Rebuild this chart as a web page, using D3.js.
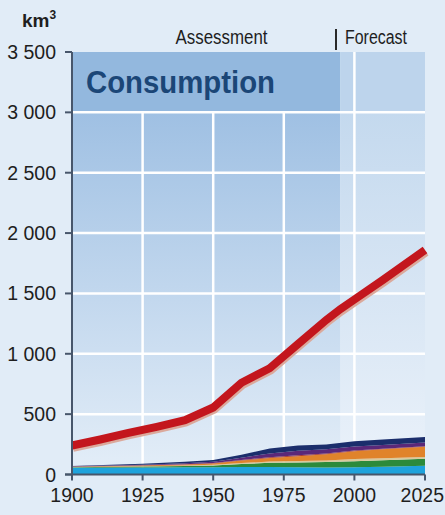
<!DOCTYPE html>
<html>
<head>
<meta charset="utf-8">
<script src="https://cdn.jsdelivr.net/npm/d3@7"></script>
<style>
  html, body { margin: 0; padding: 0; background: #e1ecf7; }
  svg { display: block; }
  text { font-family: "Liberation Sans", Arial, sans-serif; fill: #1e1e1e; }
</style>
</head>
<body>
<div id="chart"></div>
<script>
// Total consumption (red line)
const lineYears = [1900, 1910, 1920, 1930, 1940, 1950, 1960, 1970, 1980, 1990, 1995, 2000, 2010, 2025];
const lineVals  = [240, 290, 345, 395, 450, 555, 760, 880, 1080, 1280, 1370, 1450, 1610, 1860];

// Stacked layers, bottom to top
const stackYears = [1900, 1925, 1940, 1950, 1960, 1970, 1980, 1990, 2000, 2010, 2025];
const cyanVals   = [55, 58, 60, 60, 62, 62, 60, 58, 60, 64, 72];
const greenVals  = [5, 8, 10, 15, 25, 35, 40, 45, 50, 54, 58];
const tanVals    = [2, 3, 4, 5, 8, 10, 12, 14, 18, 16, 15];
const orangeVals = [3, 5, 8, 12, 20, 30, 40, 50, 65, 75, 85];
const brownVals  = [1, 2, 3, 3, 5, 6, 7, 7, 6, 5, 5];
const purpleVals = [2, 5, 8, 10, 18, 32, 37, 35, 33, 31, 30];
const navyVals   = [3, 8, 12, 15, 25, 40, 44, 40, 43, 44, 45];

const layerKeys   = ["cyan", "green", "tan", "orange", "brown", "purple", "navy"];
const layerColors = ["#1ea3dc", "#2c8a3b", "#d8c99c", "#e0832b", "#a8392c", "#5a2879", "#1b2e6c"];

const yTicks = [0, 500, 1000, 1500, 2000, 2500, 3000, 3500];
const xTicks = [1900, 1925, 1950, 1975, 2000, 2025];
const forecastStart = 1995;

const width = 445, height = 515;

const svg = d3.select("#chart").append("svg")
    .attr("width", width)
    .attr("height", height);

const x = d3.scaleLinear().domain([1900, 2025]).range([72, 425]);
const y = d3.scaleLinear().domain([0, 3500]).range([474.5, 52]);

// Backgrounds
const defs = svg.append("defs");
const g1 = defs.append("linearGradient").attr("id", "assess").attr("x1", 0).attr("y1", 0).attr("x2", 0).attr("y2", 1);
g1.append("stop").attr("offset", "0%").attr("stop-color", "#9fc0e3");
g1.append("stop").attr("offset", "100%").attr("stop-color", "#e4eef8");
const g2 = defs.append("linearGradient").attr("id", "fore").attr("x1", 0).attr("y1", 0).attr("x2", 0).attr("y2", 1);
g2.append("stop").attr("offset", "0%").attr("stop-color", "#c4d9ee");
g2.append("stop").attr("offset", "100%").attr("stop-color", "#ebf2fa");

// main plot area
svg.append("rect")
    .attr("x", x(1900)).attr("y", y(3000))
    .attr("width", x(forecastStart) - x(1900)).attr("height", y(0) - y(3000))
    .attr("fill", "url(#assess)");
svg.append("rect")
    .attr("x", x(forecastStart)).attr("y", y(3000))
    .attr("width", x(2025) - x(forecastStart)).attr("height", y(0) - y(3000))
    .attr("fill", "url(#fore)");

// header band
svg.append("rect")
    .attr("x", x(1900)).attr("y", y(3500))
    .attr("width", x(forecastStart) - x(1900)).attr("height", y(3000) - y(3500))
    .attr("fill", "#93b8de");
svg.append("rect")
    .attr("x", x(forecastStart)).attr("y", y(3500))
    .attr("width", x(2025) - x(forecastStart)).attr("height", y(3000) - y(3500))
    .attr("fill", "#bdd4ec");

// Grid
const grid = svg.append("g").attr("stroke", "#ffffff").attr("stroke-width", 2.5);
grid.selectAll(".hg")
    .data(yTicks.filter(d => d > 0 && d < 3500))
    .join("line")
    .attr("x1", x(1900)).attr("x2", x(2025))
    .attr("y1", d => y(d)).attr("y2", d => y(d));
grid.selectAll(".vg")
    .data([1925, 1950, 1975, 2000])
    .join("line")
    .attr("x1", d => x(d)).attr("x2", d => x(d))
    .attr("y1", y(0))
    .attr("y2", d => d === 2000 ? y(3500) : y(3000));

// Stacked areas
const rows = stackYears.map((yr, i) => ({
    year: yr,
    cyan: cyanVals[i], green: greenVals[i], tan: tanVals[i], orange: orangeVals[i],
    brown: brownVals[i], purple: purpleVals[i], navy: navyVals[i]
}));
const series = d3.stack().keys(layerKeys)(rows);
const area = d3.area()
    .x(d => x(d.data.year))
    .y0(d => y(d[0]))
    .y1(d => y(d[1]));
svg.append("g").selectAll("path")
    .data(series)
    .join("path")
    .attr("fill", (d, i) => layerColors[i])
    .attr("d", area);

// Red line with light shadow
const linePts = lineYears.map((yr, i) => [yr, lineVals[i]]);
const line = d3.line().x(d => x(d[0])).y(d => y(d[1]));
svg.append("path")
    .attr("d", line(linePts))
    .attr("fill", "none")
    .attr("stroke", "#dba99c")
    .attr("stroke-width", 8.5)
    .attr("transform", "translate(1,2)");
svg.append("path")
    .attr("d", line(linePts))
    .attr("fill", "none")
    .attr("stroke", "#c3161d")
    .attr("stroke-width", 8);

// Axes
const axisCol = "#47566b";
svg.append("line")
    .attr("x1", x(1900)).attr("x2", x(1900))
    .attr("y1", y(3500)).attr("y2", y(0) + 5)
    .attr("stroke", axisCol).attr("stroke-width", 2);
svg.append("line")
    .attr("x1", x(1900) - 7).attr("x2", x(2025))
    .attr("y1", y(0)).attr("y2", y(0))
    .attr("stroke", axisCol).attr("stroke-width", 2);

const yAxis = svg.append("g");
yAxis.selectAll("line")
    .data(yTicks)
    .join("line")
    .attr("x1", x(1900) - 7).attr("x2", x(1900))
    .attr("y1", d => y(d)).attr("y2", d => y(d))
    .attr("stroke", axisCol).attr("stroke-width", 2);
yAxis.selectAll("text")
    .data(yTicks)
    .join("text")
    .attr("x", 56)
    .attr("y", d => y(d))
    .attr("dy", "0.36em")
    .attr("text-anchor", "end")
    .attr("font-size", 19.5)
    .text(d => d >= 1000 ? Math.floor(d / 1000) + " " + String(d % 1000).padStart(3, "0") : d);

const xAxis = svg.append("g");
xAxis.selectAll("line")
    .data(xTicks)
    .join("line")
    .attr("x1", d => x(d)).attr("x2", d => x(d))
    .attr("y1", y(0)).attr("y2", y(0) + 6)
    .attr("stroke", axisCol).attr("stroke-width", 2);
xAxis.selectAll("text")
    .data(xTicks)
    .join("text")
    .attr("x", d => d === 2025 ? 444 : x(d))
    .attr("y", 502)
    .attr("text-anchor", d => d === 2025 ? "end" : "middle")
    .attr("font-size", 19.5)
    .text(d => d);

// Labels
const unit = svg.append("text")
    .attr("x", 22).attr("y", 27)
    .attr("font-size", 19)
    .attr("font-weight", "bold");
unit.append("tspan").text("km");
unit.append("tspan").attr("font-size", 12).attr("dy", -8).text("3");

svg.append("text")
    .attr("x", 221.5).attr("y", 43.5)
    .attr("text-anchor", "middle")
    .attr("font-size", 20)
    .attr("textLength", 92)
    .attr("lengthAdjust", "spacingAndGlyphs")
    .text("Assessment");

svg.append("line")
    .attr("x1", 336).attr("x2", 336)
    .attr("y1", 29).attr("y2", 50)
    .attr("stroke", "#2a2a2a").attr("stroke-width", 2);

svg.append("text")
    .attr("x", 345).attr("y", 43.5)
    .attr("font-size", 20)
    .attr("textLength", 62)
    .attr("lengthAdjust", "spacingAndGlyphs")
    .text("Forecast");

svg.append("text")
    .attr("x", 86).attr("y", 92.5)
    .attr("font-size", 32)
    .attr("font-weight", "bold")
    .attr("textLength", 189)
    .attr("lengthAdjust", "spacingAndGlyphs")
    .style("fill", "#1b4677")
    .text("Consumption");
</script>
</body>
</html>
